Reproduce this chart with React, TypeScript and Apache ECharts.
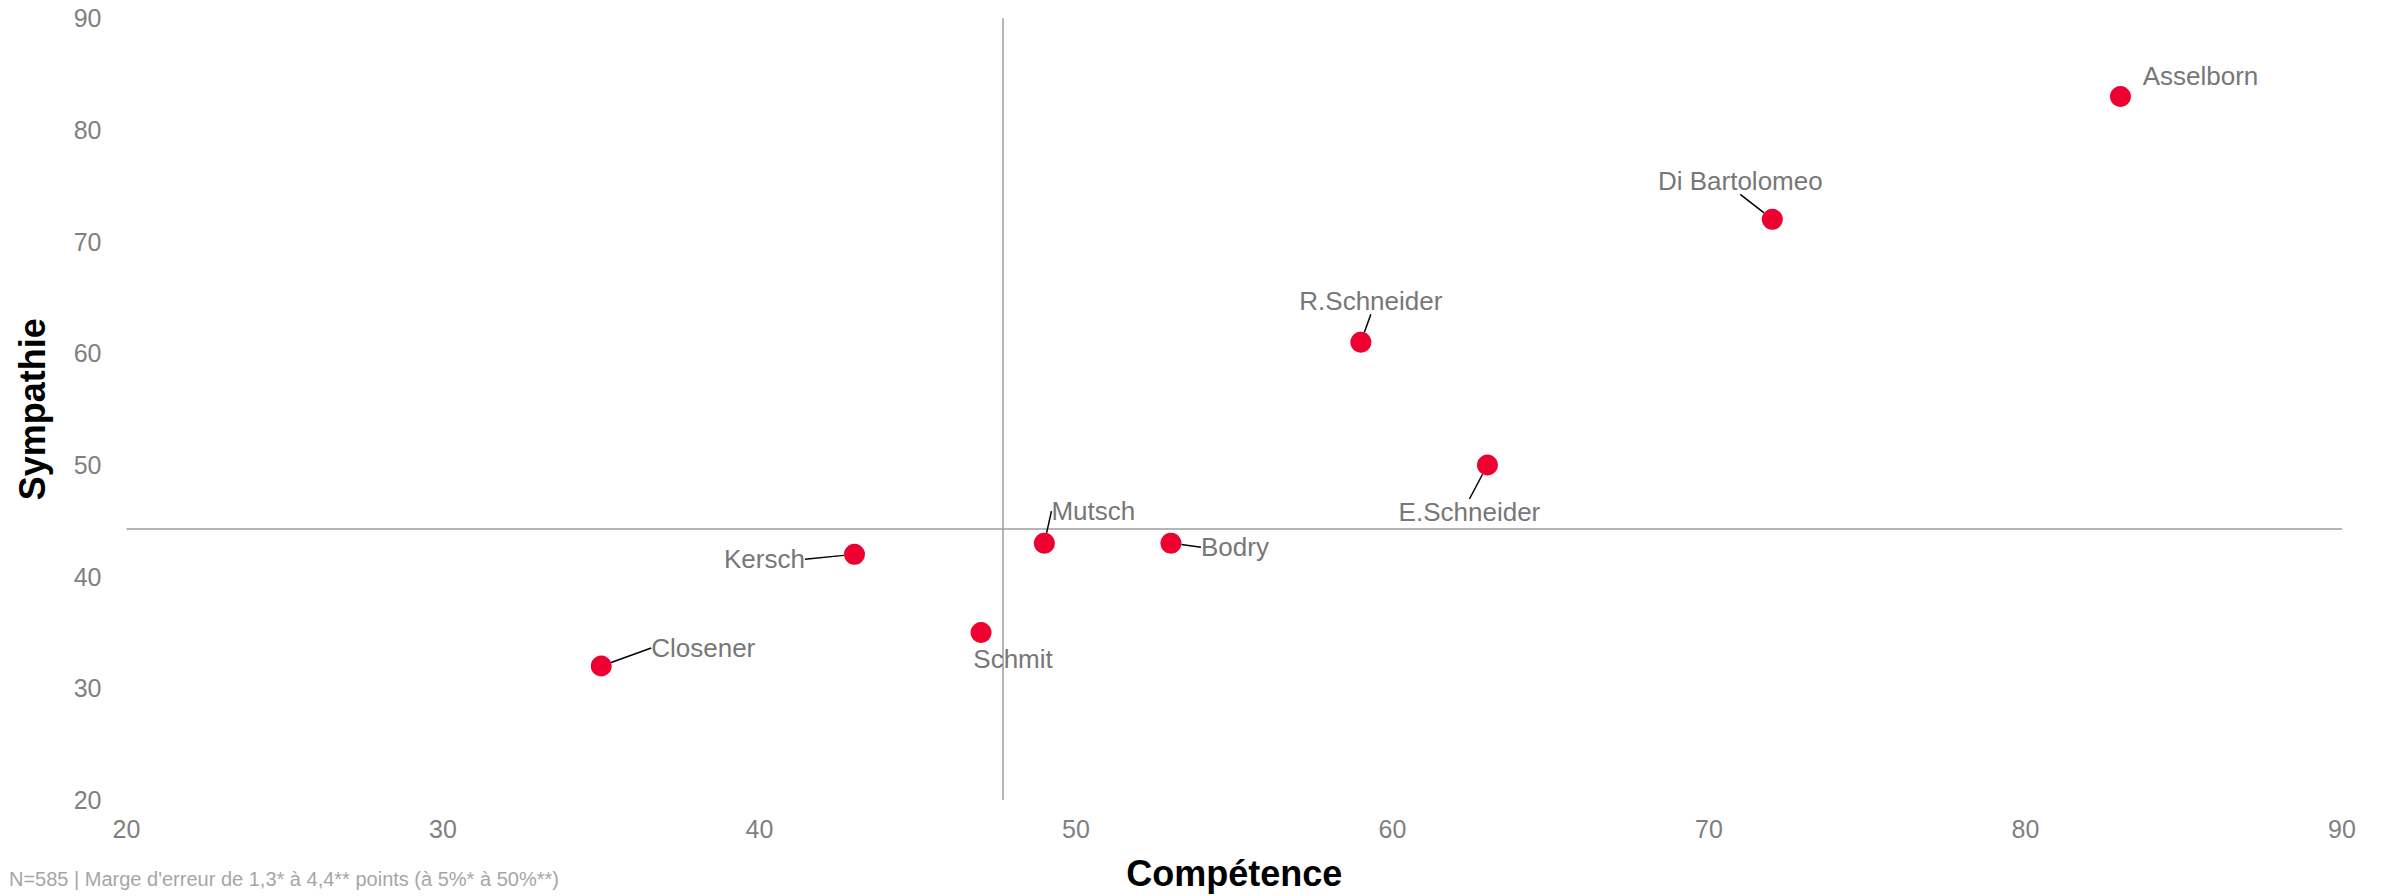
import React, { useEffect, useRef } from "react";
import * as echarts from "echarts";

// ---- Data ----
const names = [
  "Asselborn",
  "Di Bartolomeo",
  "R.Schneider",
  "E.Schneider",
  "Mutsch",
  "Bodry",
  "Kersch",
  "Schmit",
  "Closener",
];
const competence = [83, 72, 59, 63, 49, 53, 43, 47, 35];
const sympathie = [83, 72, 61, 50, 43, 43, 42, 35, 32];
const refCompetence = 47.7;
const refSympathie = 44.3;
const axisMin = 20;
const axisMax = 90;
const axisInterval = 10;
const xTitle = "Compétence";
const yTitle = "Sympathie";
const caption = "N=585 | Marge d'erreur de 1,3* à 4,4** points (à 5%* à 50%**)";

// ---- Label placement (pixel offsets of each label from its point) ----
const labelOffsets: [number, number][] = [
  [80, -20],
  [-32, -38],
  [10, -41],
  [-18, 47],
  [49, -32],
  [64, 4],
  [-90, 5],
  [32, 27],
  [102, -18],
];
const hideLeader = [true, false, false, false, false, false, false, true, false];

const FONT = "'Liberation Sans', Arial, Helvetica, sans-serif";

export default function App() {
  const ref = useRef<HTMLDivElement>(null);

  useEffect(() => {
    if (!ref.current) return;
    const chart = echarts.init(ref.current, null, { renderer: "svg" });

    const pointData = names.map((n, i) => ({
      name: n,
      value: [competence[i], sympathie[i]],
      labelLine: { show: !hideLeader[i] },
    }));

    const axisCommon = {
      type: "value" as const,
      min: axisMin,
      max: axisMax,
      interval: axisInterval,
      axisLine: { show: false },
      axisTick: { show: false },
      splitLine: { show: false },
      nameTextStyle: {
        fontFamily: FONT,
        fontSize: 36,
        fontWeight: "bold" as const,
        color: "#000",
      },
    };

    chart.setOption({
      animation: false,
      backgroundColor: "#ffffff",
      title: {
        text: caption,
        left: 9,
        top: 869,
        padding: 0,
        textStyle: {
          fontFamily: FONT,
          fontSize: 20,
          fontWeight: "normal",
          color: "#a6a6a6",
        },
      },
      grid: { left: 126.5, right: 47, top: 18.3, bottom: 93 },
      xAxis: {
        ...axisCommon,
        name: xTitle,
        nameLocation: "middle",
        nameGap: 55,
        axisLabel: {
          fontFamily: FONT,
          fontSize: 25,
          color: "#7f7f7f",
          margin: 16,
        },
      },
      yAxis: {
        ...axisCommon,
        name: yTitle,
        nameLocation: "middle",
        nameGap: 76,
        axisLabel: {
          fontFamily: FONT,
          fontSize: 25,
          color: "#7f7f7f",
          margin: 25,
        },
      },
      series: [
        {
          type: "scatter",
          data: [],
          z: 1,
          markLine: {
            silent: true,
            symbol: "none",
            label: { show: false },
            lineStyle: { color: "#9e9e9e", width: 1.5, type: "solid" },
            data: [{ xAxis: refCompetence }, { yAxis: refSympathie }],
          },
        },
        {
          type: "scatter",
          z: 5,
          symbol: "circle",
          symbolSize: 21,
          itemStyle: { color: "#ee0030", opacity: 1 },
          data: pointData,
          label: {
            show: true,
            position: "inside",
            formatter: "{b}",
            fontFamily: FONT,
            fontSize: 26,
            color: "#777777",
          },
          labelLine: {
            show: true,
            lineStyle: { color: "#000000", width: 1.5 },
          },
          labelLayout: (params: any) => {
            const o = labelOffsets[params.dataIndex] || [0, 0];
            return { dx: o[0], dy: o[1] };
          },
        },
      ],
    });

    return () => chart.dispose();
  }, []);

  return (
    <div
      ref={ref}
      style={{
        position: "fixed",
        left: 0,
        top: 0,
        width: 2389,
        height: 896,
      }}
    />
  );
}
